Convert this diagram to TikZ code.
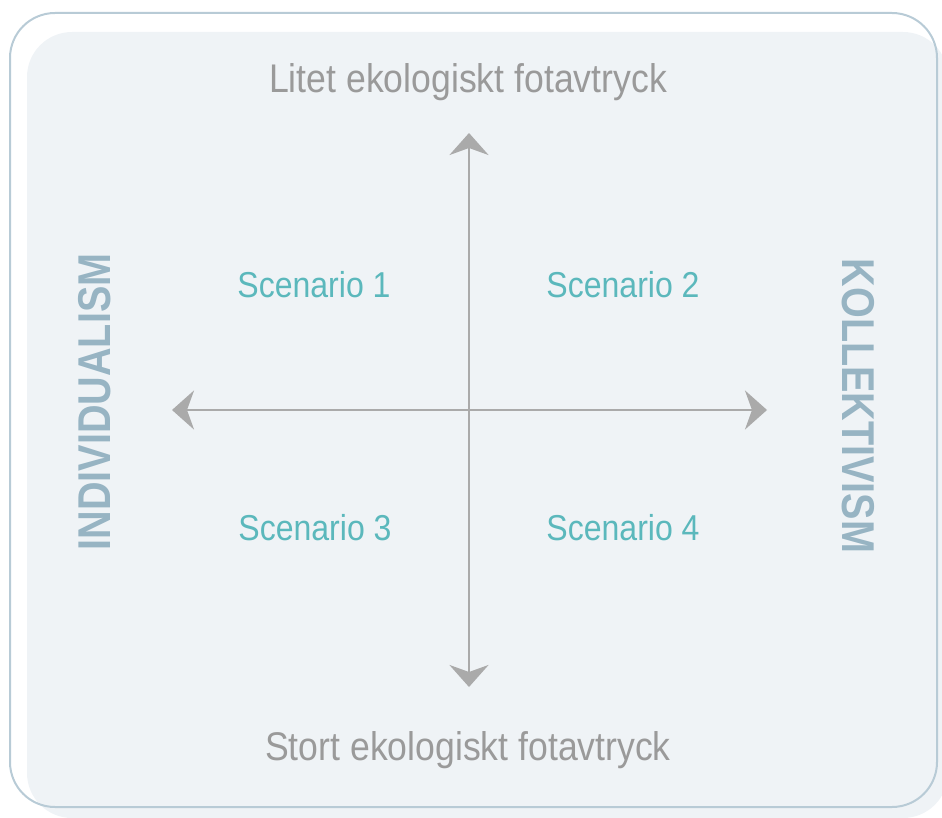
\documentclass[tikz,border=0pt]{standalone}
\usepackage{fontspec}
\setmainfont{Liberation Sans}[FakeStretch=0.89]
\newfontfamily\labelfont{Liberation Sans}[FakeStretch=0.86]
\usetikzlibrary{arrows.meta}
\definecolor{panelfill}{HTML}{EFF3F6}
\definecolor{frameline}{HTML}{B8CBD6}
\definecolor{axisgray}{HTML}{AAAAAA}
\definecolor{poletext}{HTML}{9A9A9A}
\definecolor{scenteal}{HTML}{5BB8BC}
\definecolor{sidelabel}{HTML}{97B4C3}
\begin{document}
\begin{tikzpicture}[x=1pt,y=-1pt,
  axis/.style={draw=axisgray, line width=2.8pt, {Stealth[length=22pt,width=39pt,inset=7pt]}-{Stealth[length=22pt,width=39pt,inset=7pt]}},
  poletxt/.style={text=poletext, font=\fontsize{40}{44}\selectfont, anchor=base, inner sep=0pt},
  scentxt/.style={text=scenteal, font=\fontsize{36}{40}\selectfont, anchor=base, inner sep=0pt},
  sidetxt/.style={text=sidelabel, font=\labelfont\bfseries\fontsize{46}{50}\selectfont, inner sep=0pt}
]
\useasboundingbox (0,0) rectangle (942,818);
\fill[panelfill, rounded corners=45pt] (27,32) rectangle (948,818);
\draw[frameline, line width=2pt, rounded corners=45pt] (10,13) rectangle (937,807);

\coordinate (top) at (469,133);
\coordinate (bot) at (469,687);
\coordinate (lft) at (172,410);
\coordinate (rgt) at (767,410);
\draw[axis] (bot) -- (top);
\draw[axis] (lft) -- (rgt);

\node[poletxt] (little) at (468,93) {Litet ekologiskt fotavtryck};
\node[poletxt] (big) at (468,760) {Stort ekologiskt fotavtryck};

\node[scentxt] (s1) at (314,298) {Scenario 1};
\node[scentxt] (s2) at (623,298) {Scenario 2};
\node[scentxt] (s3) at (315,540) {Scenario 3};
\node[scentxt] (s4) at (623,540) {Scenario 4};

\node[sidetxt, rotate=90] (indiv) at (95,402) {INDIVIDUALISM};
\node[sidetxt, rotate=-90] (koll) at (858,406) {KOLLEKTIVISM};
\end{tikzpicture}
\end{document}
